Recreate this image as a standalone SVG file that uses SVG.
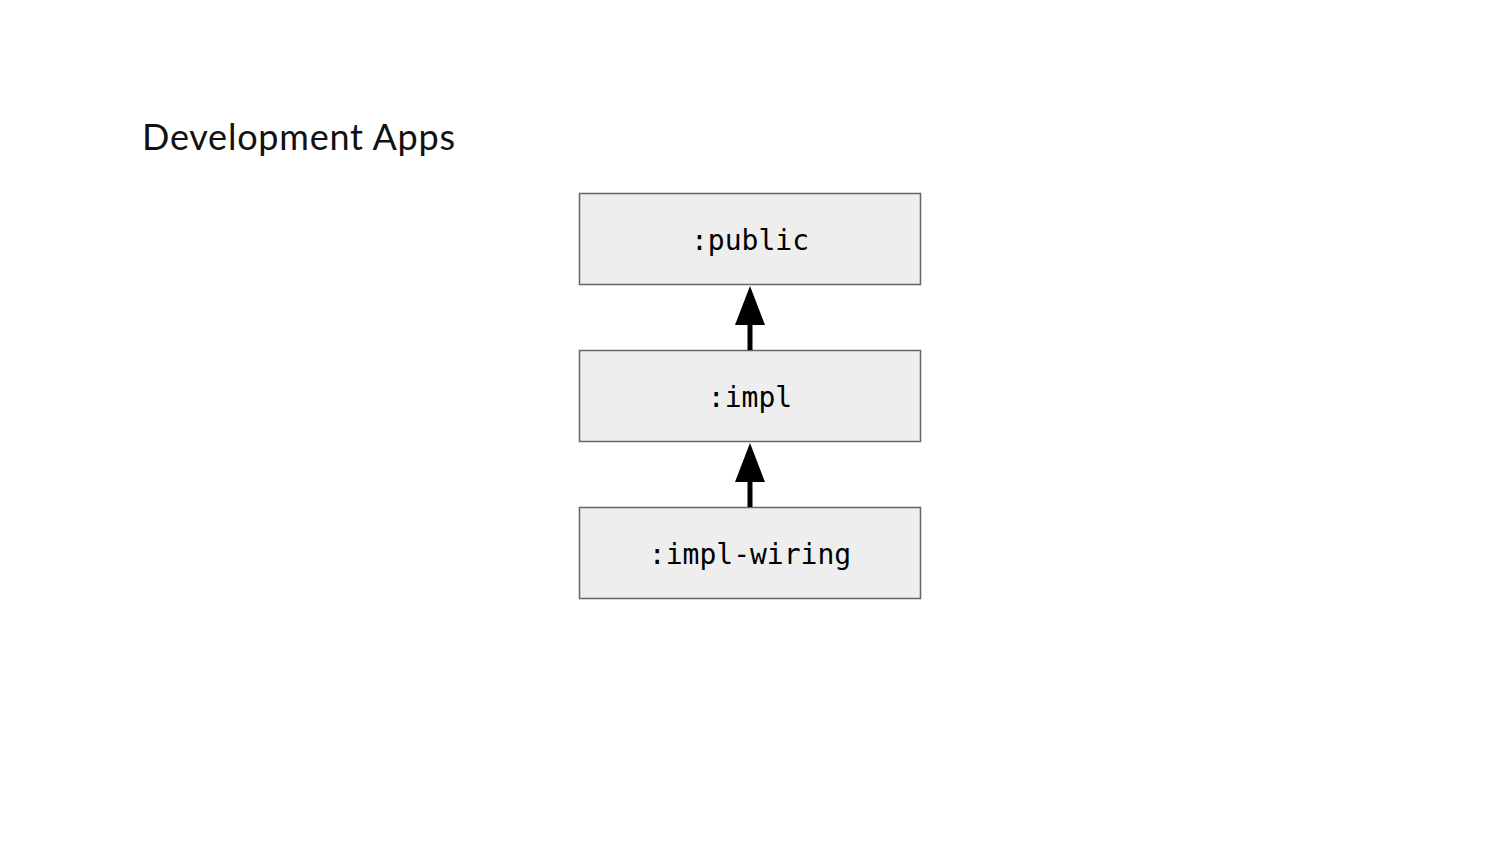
<svg xmlns="http://www.w3.org/2000/svg" width="1500" height="844" viewBox="0 0 1500 844">
<style>
.node rect{fill:#eeeeee;stroke:#666666;stroke-width:1.5}
.node text{font-family:"DejaVu Sans Mono",monospace;font-size:28px;fill:#000;text-anchor:middle}
.title{font-family:"Lato","Liberation Sans",sans-serif;font-size:36px;fill:#111}
.edge{stroke:#000;stroke-width:5;fill:none}
.head{fill:#000}
</style>
<rect width="1500" height="844" fill="#ffffff"/>
<text class="title" x="142" y="150" textLength="313" lengthAdjust="spacing">Development Apps</text>
<g id="node-public" class="node">
<rect x="579.5" y="193.5" width="341" height="91"/>
<text x="750" y="250">:public</text>
</g>
<g id="node-impl" class="node">
<rect x="579.5" y="350.5" width="341" height="91"/>
<text x="750" y="407">:impl</text>
</g>
<g id="node-impl-wiring" class="node">
<rect x="579.5" y="507.5" width="341" height="91"/>
<text x="750" y="564">:impl-wiring</text>
</g>
<g id="connectors">
<line class="edge" x1="750" y1="350" x2="750" y2="322"/>
<polygon class="head" points="750,286 765,325 735,325"/>
<line class="edge" x1="750" y1="507" x2="750" y2="479"/>
<polygon class="head" points="750,443 765,482 735,482"/>
</g>
</svg>
